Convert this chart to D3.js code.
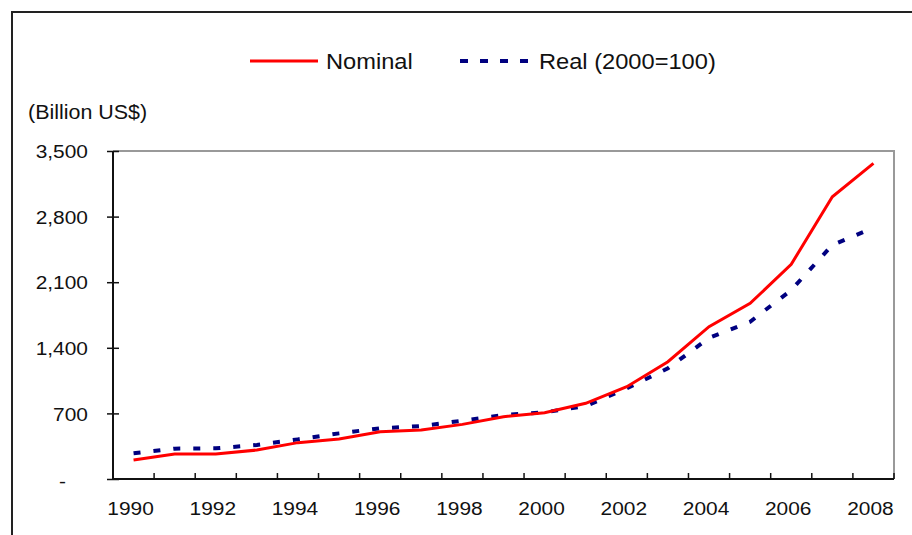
<!DOCTYPE html>
<html>
<head>
<meta charset="utf-8">
<script src="https://cdn.jsdelivr.net/npm/d3@7"></script>
<style>
  body { margin: 0; background: #fff; }
  svg { display: block; font-family: "Liberation Sans", Arial, sans-serif; }
</style>
</head>
<body>
<svg id="chart" width="912" height="535"></svg>
<script>
const years = d3.range(1990, 2009);
const nominal = [203, 267, 267, 309, 388, 427, 505, 523, 583, 665, 707, 808, 985, 1252, 1625, 1874, 2291, 3012, 3368];
const real = [274, 324, 327, 363, 423, 487, 541, 565, 622, 683, 711, 779, 967, 1181, 1505, 1678, 2016, 2497, 2681];
const yTicks = [0, 700, 1400, 2100, 2800, 3500];
const xLabels = [1990, 1992, 1994, 1996, 1998, 2000, 2002, 2004, 2006, 2008];

const svg = d3.select('#chart');
const width = 912;
const height = 535;
const margin = { top: 151, right: 18, bottom: 56, left: 113 };
const stretch = 1.1; // the reference text is a little wide

// place text at (x, y) and widen it horizontally
const placeText = (sel, x, y) =>
    sel.attr('x', 0).attr('y', 0)
        .attr('transform', (d, i) => {
            const px = typeof x === 'function' ? x(d, i) : x;
            const py = typeof y === 'function' ? y(d, i) : y;
            return `translate(${px},${py}) scale(${stretch},1)`;
        });

// outer frame (cut at right and bottom edges)
svg.append('rect')
    .attr('x', 12).attr('y', 12)
    .attr('width', width + 20).attr('height', height + 20)
    .attr('fill', 'none').attr('stroke', '#222').attr('stroke-width', 2);

const xScale = d3.scaleBand()
    .domain(years)
    .range([margin.left, width - margin.right])
    .padding(0);

const yScale = d3.scaleLinear()
    .domain([0, 3500])
    .range([height - margin.bottom, margin.top]);

const cx = (d) => xScale(d) + xScale.bandwidth() / 2;

// plot area frame (grey top and right)
svg.append('path')
    .attr('d', `M${margin.left},${margin.top}H${width - margin.right}V${height - margin.bottom}`)
    .attr('fill', 'none').attr('stroke', '#999').attr('stroke-width', 2);

// y axis
const yAxis = svg.append('g')
    .attr('transform', `translate(${margin.left},0)`)
    .call(d3.axisLeft(yScale).tickValues(yTicks).tickSize(6)
        .tickFormat((d) => (d === 0 ? '-' : d3.format(',')(d))));
yAxis.select('.domain').attr('stroke', '#111').attr('stroke-width', 2).attr('d', `M0,${yScale(0)}V${yScale(3500)}`);
yAxis.selectAll('.tick line').attr('x1', 6).attr('x2', -6).attr('stroke', '#111').attr('stroke-width', 1.5);
yAxis.selectAll('.tick text')
    .attr('dy', null)
    .attr('dominant-baseline', 'central')
    .attr('font-size', 19).attr('fill', '#111').attr('font-family', '"Liberation Sans", Arial, sans-serif')
    .call(placeText, (d) => (d === 0 ? -47 : -25), (d) => (d === 0 ? 2 : 0));

// x axis, ticks between categories
const xAxis = svg.append('g')
    .attr('transform', `translate(0,${height - margin.bottom})`);
xAxis.append('line')
    .attr('x1', margin.left).attr('x2', width - margin.right)
    .attr('stroke', '#111').attr('stroke-width', 2);
xAxis.selectAll('.xtick')
    .data(years.concat([2009]))
    .enter()
    .append('line')
    .attr('x1', (d) => (d === 2009 ? width - margin.right : xScale(d)))
    .attr('x2', (d) => (d === 2009 ? width - margin.right : xScale(d)))
    .attr('y1', 0).attr('y2', -6)
    .attr('stroke', '#111').attr('stroke-width', 1.5);
xAxis.selectAll('.xlabel')
    .data(xLabels)
    .enter()
    .append('text')
    .attr('text-anchor', 'middle')
    .attr('font-size', 19).attr('fill', '#111')
    .text((d) => d)
    .call(placeText, (d) => cx(d) - 3, 36);

const line = d3.line()
    .x((d, i) => cx(years[i]))
    .y((d) => yScale(d));

svg.append('path')
    .datum(real)
    .attr('d', line)
    .attr('fill', 'none').attr('stroke', '#000080')
    .attr('stroke-width', 4).attr('stroke-dasharray', '7,13');

svg.append('path')
    .datum(nominal)
    .attr('d', line)
    .attr('fill', 'none').attr('stroke', '#ff0000')
    .attr('stroke-width', 3);

// legend
const legend = svg.append('g');
legend.append('line')
    .attr('x1', 250).attr('x2', 318).attr('y1', 61).attr('y2', 61)
    .attr('stroke', '#ff0000').attr('stroke-width', 3);
legend.append('text')
    .attr('font-size', 21.5).attr('fill', '#111')
    .text('Nominal')
    .call(placeText, 326, 69);
legend.append('line')
    .attr('x1', 460).attr('x2', 530).attr('y1', 61).attr('y2', 61)
    .attr('stroke', '#000080').attr('stroke-width', 4).attr('stroke-dasharray', '8,12');
legend.append('text')
    .attr('font-size', 21.5).attr('fill', '#111')
    .text('Real (2000=100)')
    .call(placeText, 539, 69);

// unit label
svg.append('text')
    .attr('font-size', 19.5).attr('fill', '#111')
    .text('(Billion US$)')
    .call(placeText, 28, 119);
</script>
</body>
</html>
